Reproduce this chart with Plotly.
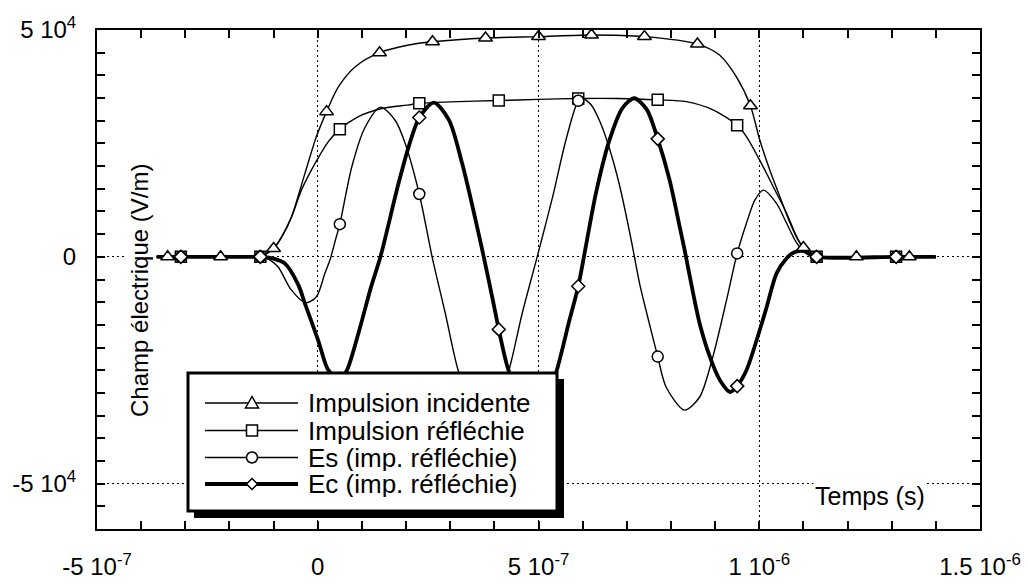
import numpy as np
import plotly.graph_objects as go

# ---------------- data (time in ns, field in V/m) ----------------
inc_t = [-365, -340, -220, -150, -125, -100, -80, -59, -29, -3, 20, 47, 85, 140, 206, 260, 380, 500, 620, 740, 860,
         910, 948, 980, 1001, 1024, 1047, 1070, 1088, 1100, 1115, 1130, 1220, 1340, 1400]
inc_v = [0, 0, 0, 0, 300, 1850, 4600, 8900, 18400, 26500, 32000, 37500, 41900, 45000, 46700, 47400, 48250, 48550,
         48900, 48550, 46900, 44500, 39700, 33300, 25800, 19100, 13200, 7400, 3700, 2050, 500, 0, 0, 0, 0]

ref_t = [-365, -310, -150, -125, -100, -82, -59, -37, -6, 24, 50, 92, 145, 206, 230, 300, 410, 500, 590, 680, 770,
         835, 895, 950, 971, 1001, 1032, 1062, 1085, 1108, 1130, 1310, 1400]
ref_v = [0, 0, 0, 300, 1850, 4400, 8900, 14700, 20600, 25400, 28100, 30900, 32700, 33500, 33850, 34150, 34450, 34700,
         34900, 34900, 34600, 34200, 32400, 29000, 26500, 21300, 15400, 9600, 4400, 800, 0, 0, 0]

es_t = [-365, -310, -150, -130, -110, -90, -60, -27, -3, 16, 28, 40, 50, 77, 107, 142, 176, 198, 230, 259, 289, 318,
        345, 378, 410, 433, 463, 497, 532, 562, 590, 600, 620, 640, 660, 683, 710, 729, 751, 770, 789, 831, 865, 895,
        926, 950, 971, 990, 1009, 1039, 1062, 1085, 1108, 1130, 1310, 1400]
es_v = [0, 0, 0, 0, -600, -2200, -7300, -10150, -8800, -3700, -600, 3700, 7200, 19800, 28500, 33000, 30000, 25000,
        13850, 0, -12500, -25000, -31500, -34000, -31000, -25000, -12500, 0, 13200, 25700, 34400, 34950, 33400, 29600,
        24100, 16000, 3700, -5900, -14700, -22000, -28700, -33800, -30900, -22000, -9500, 750, 7400, 12500, 14700,
        11800, 7400, 3000, 600, 0, 0, 0]

ec_t = [-365, -310, -150, -125, -100, -74, -44, -29, 1, 24, 50, 66, 92, 120, 142, 183, 206, 230, 263, 297, 327, 354,
        376, 395, 410, 429, 455, 488, 515, 539, 570, 590, 607, 630, 660, 690, 717, 745, 770, 797, 819, 831, 842, 865,
        888, 911, 934, 950, 971, 994, 1017, 1039, 1062, 1077, 1095, 1115, 1135, 1310, 1400]
ec_v = [0, 0, 0, 0, -400, -1500, -6200, -10300, -18400, -25000, -26900, -25000, -16900, -6900, 0, 16200, 24300, 30700,
        34000, 30200, 20600, 9600, 0, -8800, -16000, -24000, -31000, -34000, -31700, -25800, -14000, -6500, 2200, 14000,
        25500, 32800, 34950, 32500, 26000, 16900, 7000, 1500, -4000, -14700, -22000, -27200, -29800, -28500, -25000,
        -18400, -11000, -3700, -300, 900, 1300, 900, 0, 0, 0]

tri_t = [-340, -220, -100, 20, 140, 260, 380, 500, 620, 740, 860, 980, 1100, 1220, 1340]
tri_v = [0, 0, 1850, 32000, 45000, 47400, 48250, 48550, 48900, 48550, 46900, 33300, 2050, 0, 0]

mk_t = [-310, -130, 50, 230, 410, 590, 770, 950, 1130, 1310]
sq_v = [0, 0, 28100, 33850, 34450, 34900, 34600, 29000, 0, 0]
ci_v = [0, 0, 7200, 13850, -31000, 34400, -22000, 750, 0, 0]
di_v = [0, 0, -26900, 30700, -16000, -6500, 26000, -28500, 0, 0]

legend_labels = ["Impulsion incidente", "Impulsion réfléchie", "Es (imp. réfléchie)", "Ec (imp. réfléchie)"]

x_ticks = [-5e-7, 0, 5e-7, 1e-6, 1.5e-6]
x_tick_text = ["-5 10<sup>-7</sup>", "0", "5 10<sup>-7</sup>", "1 10<sup>-6</sup>", "1.5 10<sup>-6</sup>"]
y_ticks = [-5e4, 0, 5e4]
y_tick_text = ["-5 10<sup>4</sup>", "0", "5 10<sup>4</sup>"]

NS = 1e-9
FONT = "Liberation Sans, Arial, Helvetica, sans-serif"

W, H = 1028, 585
L, R, T, B = 97, 48, 30, 56
PW, PH = W - L - R, H - T - B


def pxx(x):
    return (x - L) / PW


def pxy(y):
    return (H - B - y) / PH


fig = go.Figure()

thin = 1.4
thick = 3.8
for t, v, w in [(inc_t, inc_v, thin), (ref_t, ref_v, thin), (es_t, es_v, thin), (ec_t, ec_v, thick)]:
    fig.add_trace(go.Scatter(x=np.array(t) * NS, y=v, mode="lines",
                             line=dict(color="black", width=w, shape="spline", smoothing=0.8),
                             showlegend=False, hoverinfo="skip"))

for t, v, sym, size in [(tri_t, tri_v, "triangle-up", 12), (mk_t, sq_v, "square", 11),
                        (mk_t, ci_v, "circle", 11), (mk_t, di_v, "diamond", 10)]:
    fig.add_trace(go.Scatter(x=np.array(t) * NS, y=v, mode="markers",
                             marker=dict(symbol=sym, size=size, color="white",
                                         line=dict(color="black", width=1.5)),
                             showlegend=False, hoverinfo="skip"))

axis_common = dict(
    ticks="inside", ticklen=8, tickwidth=1.5, tickcolor="black",
    showline=True, linewidth=2, linecolor="black", mirror="allticks",
    showgrid=True, gridcolor="black", griddash="2px,3px", gridwidth=1,
    zeroline=False, tickfont=dict(family=FONT, size=24, color="black"),
    tickmode="array", automargin=False,
)

fig.update_xaxes(range=[-5e-7, 1.5e-6], tickvals=x_ticks, ticktext=x_tick_text,
                 minor=dict(tickmode="array", tickvals=list(np.arange(-5, 15.5, 1) * 1e-7),
                            ticks="inside", ticklen=8, tickwidth=1.5, tickcolor="black", showgrid=False),
                 ticklabelstandoff=15, **axis_common)
fig.update_yaxes(range=[-6e4, 5e4], tickvals=y_ticks, ticktext=y_tick_text,
                 minor=dict(tickmode="array", tickvals=list(np.arange(-60000, 50001, 5000)),
                            ticks="inside", ticklen=8, tickwidth=1.5, tickcolor="black", showgrid=False),
                 ticklabelstandoff=14, **axis_common)

shapes = []
annotations = []

# axis titles (inside the plot, on white)
annotations.append(dict(text="Champ électrique (V/m)", x=pxx(139), y=pxy(291), xref="paper", yref="paper",
                        showarrow=False, textangle=-90, font=dict(family=FONT, size=24, color="black"),
                        bgcolor="white", xanchor="center", yanchor="middle"))
annotations.append(dict(text="Temps (s)", x=pxx(870), y=pxy(496), xref="paper", yref="paper",
                        showarrow=False, font=dict(family=FONT, size=25, color="black"),
                        bgcolor="white", xanchor="center", yanchor="middle"))

# custom legend box with shadow
shapes.append(dict(type="rect", xref="paper", yref="paper", x0=pxx(194), x1=pxx(564), y0=pxy(379), y1=pxy(518),
                   fillcolor="black", line=dict(width=0), layer="above"))
shapes.append(dict(type="rect", xref="paper", yref="paper", x0=pxx(188), x1=pxx(557), y0=pxy(373), y1=pxy(511),
                   fillcolor="white", line=dict(color="black", width=3), layer="above"))

rows = [403, 430.5, 457.5, 484]
widths = [thin, thin, thin, thick]
mx = 252
for i, (row, lw, lab) in enumerate(zip(rows, widths, legend_labels)):
    shapes.append(dict(type="line", xref="paper", yref="paper", x0=pxx(205), x1=pxx(298), y0=pxy(row), y1=pxy(row),
                       line=dict(color="black", width=lw), layer="above"))
    mk = dict(xref="paper", yref="paper", fillcolor="white", line=dict(color="black", width=1.5), layer="above")
    if i == 0:
        path = "M{},{} L{},{} L{},{} Z".format(pxx(mx), pxy(row - 6.5), pxx(mx - 6.5), pxy(row + 5),
                                               pxx(mx + 6.5), pxy(row + 5))
        shapes.append(dict(type="path", path=path, **mk))
    elif i == 1:
        shapes.append(dict(type="rect", x0=pxx(mx - 5.5), x1=pxx(mx + 5.5), y0=pxy(row - 5.5), y1=pxy(row + 5.5), **mk))
    elif i == 2:
        shapes.append(dict(type="circle", x0=pxx(mx - 5.5), x1=pxx(mx + 5.5), y0=pxy(row - 5.5), y1=pxy(row + 5.5), **mk))
    else:
        path = "M{},{} L{},{} L{},{} L{},{} Z".format(pxx(mx), pxy(row - 5.5), pxx(mx + 5.5), pxy(row),
                                                      pxx(mx), pxy(row + 5.5), pxx(mx - 5.5), pxy(row))
        shapes.append(dict(type="path", path=path, **mk))
    annotations.append(dict(text=lab, x=pxx(307), y=pxy(row), xref="paper", yref="paper", showarrow=False,
                            xanchor="left", yanchor="middle", height=26, valign="middle", borderpad=0,
                            font=dict(family=FONT, size=26, color="black")))

fig.update_layout(
    width=W, height=H,
    margin=dict(l=L, r=R, t=T, b=B),
    paper_bgcolor="white", plot_bgcolor="white",
    showlegend=False, hovermode=False,
    shapes=shapes, annotations=annotations,
    font=dict(family=FONT, color="black"),
)

fig.write_html("out.html")
